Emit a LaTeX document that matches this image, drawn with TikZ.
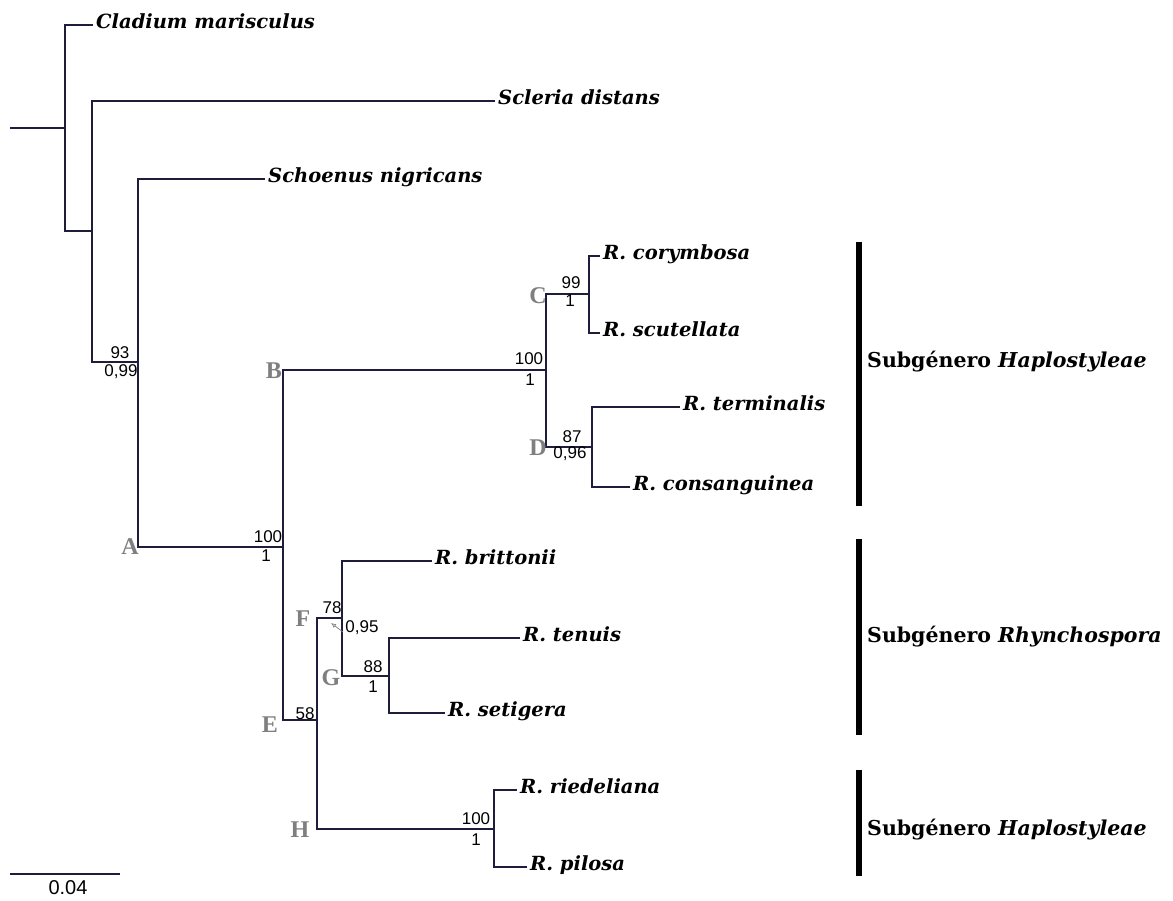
\documentclass[tikz,border=0pt]{standalone}
\usepackage{fontspec}
\setmainfont{DejaVu Serif}
\newfontfamily\numfont{Liberation Sans}
\newfontfamily\letfont{Liberation Serif}
\usetikzlibrary{arrows.meta}
\definecolor{branch}{HTML}{1E1E3C}
\definecolor{letgrey}{HTML}{7F7F7F}
\tikzset{
  edge/.style={draw=branch, line width=1.3pt},
  taxon/.style={anchor=west, inner sep=0pt, inner xsep=3pt, text height=0.72em, text depth=0pt,
    font=\fontsize{19.5}{22}\selectfont\bfseries\itshape},
  sup/.style={inner sep=0pt, font=\fontsize{17}{19}\numfont},
  cladelet/.style={inner sep=0pt, text=letgrey, font=\fontsize{24}{26}\letfont\bfseries},
  bar/.style={line width=6pt, black},
  group/.style={anchor=west, inner sep=0pt, font=\fontsize{20.5}{23}\selectfont\bfseries},
  pointer/.style={line width=0.7pt, gray, -{Latex[open, length=5pt, width=4.5pt]}}
}
\begin{document}
\begin{tikzpicture}[x=1pt,y=-1pt]
\useasboundingbox (0,0) rectangle (1173,900);
% internal nodes
\coordinate (root) at (10,128);
\coordinate (R) at (65,128);
\coordinate (N1) at (92,231);
\coordinate (N2) at (138,362);
\coordinate (nA) at (283,547);
\coordinate (nB) at (546,370);
\coordinate (nC) at (589,294);
\coordinate (nD) at (592,447);
\coordinate (nE) at (317,720);
\coordinate (nF) at (342,618);
\coordinate (nG) at (389,676);
\coordinate (nH) at (494,829);
% taxa
\node[taxon] (clad) at (93,25) {Cladium marisculus};
\node[taxon] (scle) at (495,101) {Scleria distans};
\node[taxon] (scho) at (265,179) {Schoenus nigricans};
\node[taxon] (cory) at (600,256) {R. corymbosa};
\node[taxon] (scut) at (600,333) {R. scutellata};
\node[taxon] (term) at (680,407) {R. terminalis};
\node[taxon] (cons) at (630,487) {R. consanguinea};
\node[taxon] (brit) at (432,561) {R. brittonii};
\node[taxon] (tenu) at (520,638) {R. tenuis};
\node[taxon] (seti) at (445,713) {R. setigera};
\node[taxon] (ried) at (517,790) {R. riedeliana};
\node[taxon] (pilo) at (527,867) {R. pilosa};
% edges
\draw[edge] (root) -- (R);
\draw[edge] (R) |- (clad.west);
\draw[edge] (R) |- (N1);
\draw[edge] (N1) |- (scle.west);
\draw[edge] (N1) |- (N2);
\draw[edge] (N2) |- (scho.west);
\draw[edge] (N2) |- (nA);
\draw[edge] (nA) |- (nB);
\draw[edge] (nA) |- (nE);
\draw[edge] (nB) |- (nC);
\draw[edge] (nB) |- (nD);
\draw[edge] (nC) |- (cory.west);
\draw[edge] (nC) |- (scut.west);
\draw[edge] (nD) |- (term.west);
\draw[edge] (nD) |- (cons.west);
\draw[edge] (nE) |- (nF);
\draw[edge] (nE) |- (nH);
\draw[edge] (nF) |- (brit.west);
\draw[edge] (nF) |- (nG);
\draw[edge] (nG) |- (tenu.west);
\draw[edge] (nG) |- (seti.west);
\draw[edge] (nH) |- (ried.west);
\draw[edge] (nH) |- (pilo.west);
% support values
\node[sup] (s93) at (120,353) {93};
\node[sup] (s099) at (121,372) {0,99};
\node[sup] (sA1) at (268,537) {100};
\node[sup] (sA2) at (266,556) {1};
\node[sup] (sB1) at (529,359) {100};
\node[sup] (sB2) at (530,380) {1};
\node[sup] (sC1) at (571,283) {99};
\node[sup] (sC2) at (570,301) {1};
\node[sup] (sD1) at (572,437) {87};
\node[sup] (sD2) at (570,454) {0,96};
\node[sup] (sE1) at (305,714) {58};
\node[sup] (sF1) at (332,608) {78};
\node[sup] (sF2) at (362,628) {0,95};
\node[sup] (sG1) at (373,667) {88};
\node[sup] (sG2) at (373,687) {1};
\node[sup] (sH1) at (476,819) {100};
\node[sup] (sH2) at (476,840) {1};
\coordinate (arrtail) at (343,632);
\coordinate (arrtip) at (331,623);
\draw[pointer] (arrtail) -- (arrtip);
% clade letters
\node[cladelet] (lA) at (130,547) {A};
\node[cladelet] (lB) at (274,371) {B};
\node[cladelet] (lC) at (538,296) {C};
\node[cladelet] (lD) at (538,448) {D};
\node[cladelet] (lE) at (270,725) {E};
\node[cladelet] (lF) at (303,619) {F};
\node[cladelet] (lG) at (331,678) {G};
\node[cladelet] (lH) at (300,830) {H};
% group bars
\coordinate (b1t) at (859,242); \coordinate (b1b) at (859,506);
\coordinate (b2t) at (859,539); \coordinate (b2b) at (859,735);
\coordinate (b3t) at (859,770); \coordinate (b3b) at (859,876);
\draw[bar] (b1t) -- (b1b);
\draw[bar] (b2t) -- (b2b);
\draw[bar] (b3t) -- (b3b);
\node[group] (g1) at (867,362) {Subgénero \textit{Haplostyleae}};
\node[group] (g2) at (867,637) {Subgénero \textit{Rhynchospora}};
\node[group] (g3) at (867,830) {Subgénero \textit{Haplostyleae}};
% scale bar
\coordinate (sc1) at (10,874);
\coordinate (sc2) at (120,874);
\draw[edge] (sc1) -- (sc2);
\node[sup, font=\fontsize{20}{22}\numfont] (sclab) at (68,888) {0.04};
\end{tikzpicture}
\end{document}
